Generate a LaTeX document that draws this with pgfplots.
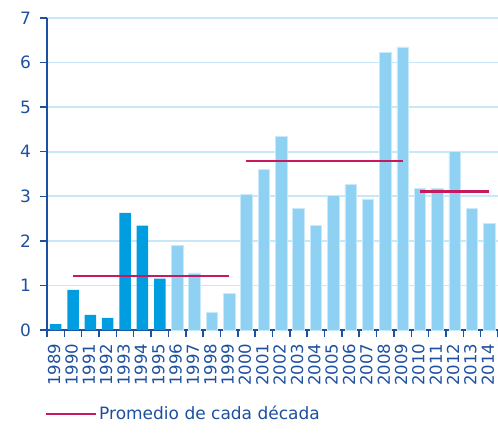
\documentclass[border=0pt]{standalone}
\usepackage{fontspec}
\setmainfont{DejaVu Sans}
\usepackage{pgfplots}
\pgfplotsset{compat=1.18}
\definecolor{darkbar}{RGB}{0,158,224}
\definecolor{lightbar}{RGB}{142,209,242}
\definecolor{lightedge}{RGB}{200,234,250}
\definecolor{gridc}{RGB}{200,232,248}
\definecolor{axisc}{RGB}{29,80,160}
\definecolor{avgc}{RGB}{198,25,94}
\begin{document}
\begin{tikzpicture}
\path[use as bounding box] (0,0) rectangle (498pt,432pt);
\begin{axis}[
  at={(47pt,102pt)}, anchor=south west,
  scale only axis, width=451pt, height=312pt,
  xmin=-0.5, xmax=25.5, ymin=0, ymax=7,
  axis x line=bottom, axis y line=left,
  axis line style={-, draw=axisc, line width=1.8pt},
  xtick={-0.5,0.5,...,25.5},
  x tick label as interval,
  xticklabels={1989,1990,1991,1992,1993,1994,1995,1996,1997,1998,1999,2000,2001,2002,2003,2004,2005,2006,2007,2008,2009,2010,2011,2012,2013,2014},
  ytick={0,1,...,7},
  tick align=outside,
  major tick length=6.5pt,
  tick style={draw=axisc, line width=1.5pt},
  ymajorgrids, grid style={draw=gridc, line width=1.6pt},
  /pgf/number format/assume math mode=true,
  yticklabel style={font=\fontsize{17}{17}\selectfont, text=axisc, xshift=-6pt},
  xticklabel style={rotate=90, anchor=east, font=\fontsize{16.5}{17}\selectfont, text=axisc, inner sep=1pt, xshift=-6pt, yshift=1.5pt},
  legend style={at={(0,0)}, anchor=north west, xshift=-5pt, yshift=-72pt, draw=none, fill=none,
    font=\fontsize{17}{17}\selectfont, text=axisc},
  legend cell align=left,
  legend image code/.code={\draw[avgc, line width=2pt] (0pt,0pt) -- (50pt,0pt);},
  legend style={/tikz/every even column/.append style={column sep=2pt}},
  clip=false,
]
\addplot[ybar, bar shift=0pt, bar width=11.5pt, fill=darkbar, draw=none, forget plot] coordinates {
(0,0.13) (1,0.90) (2,0.34) (3,0.27) (4,2.63) (5,2.34) (6,1.15)};
\addplot[ybar, bar shift=0pt, bar width=11.5pt, fill=lightbar, draw=lightedge, line width=0.6pt, forget plot] coordinates {
(7,1.89) (8,1.28) (9,0.40) (10,0.82) (11,3.05) (12,3.60) (13,4.34) (14,2.73) (15,2.34) (16,3.02) (17,3.26) (18,2.94) (19,6.22) (20,6.35) (21,3.18) (22,3.18) (23,4.01) (24,2.72) (25,2.40)};
\addplot[avgc, line width=2.8pt] coordinates {(1,1.21) (10,1.21)};
\addlegendentry{Promedio de cada década}
\addplot[avgc, line width=2.8pt, forget plot] coordinates {(11,3.79) (20,3.79)};
\addplot[avgc, line width=2.8pt, forget plot] coordinates {(21,3.10) (25,3.10)};
\end{axis}
\end{tikzpicture}
\end{document}
